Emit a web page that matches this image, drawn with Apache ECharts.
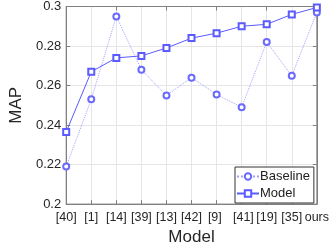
<!DOCTYPE html>
<html><head><meta charset="utf-8">
<script src="https://cdn.jsdelivr.net/npm/echarts@6/dist/echarts.min.js"></script>
<style>html,body{margin:0;padding:0;background:#fff}#c{width:332px;height:251px}</style>
</head><body><div id="c"></div>
<script>
var categories = ['[40]','[1]','[14]','[39]','[13]','[42]','[9] ',' [41]','[19]','[35]','ours'];
var baseline = [0.219,0.253,0.295,0.268,0.255,0.264,0.2555,0.249,0.282,0.265,0.297];
var model = [0.2365,0.267,0.274,0.275,0.279,0.284,0.2865,0.290,0.291,0.296,0.2995];
var yTicks = [0.2,0.22,0.24,0.26,0.28,0.3];

var font = 'Liberation Sans, Arial, Helvetica, sans-serif';
var axisGray = '#808080';
var chart = echarts.init(document.getElementById('c'), null, {renderer:'canvas'});
chart.setOption({
  animation:false,
  grid:{left:48,right:12,top:5,bottom:40,show:true,borderColor:axisGray,borderWidth:1,containLabel:false},
  legend:{
    left:235, top:167, orient:'vertical', itemGap:4, itemWidth:22, itemHeight:8,
    padding:[3,4,3,1], borderColor:'#333', borderWidth:1, backgroundColor:'#fff', borderRadius:0,
    textStyle:{fontFamily:font,fontSize:13,color:'#222',padding:[0,0,0,-4]},
    itemStyle:{borderWidth:1},
    data:['Baseline','Model']
  },
  xAxis:[{
    type:'category', data:categories, boundaryGap:false,
    name:'Model', nameLocation:'middle', nameGap:24,
    nameTextStyle:{fontFamily:font,fontSize:17,color:'#262626'},
    axisLine:{lineStyle:{color:axisGray}},
    axisTick:{inside:true,length:4,lineStyle:{color:axisGray},alignWithLabel:true},
    axisLabel:{fontFamily:font,fontSize:12.5,color:'#262626',margin:7,interval:0},
    splitLine:{show:true,lineStyle:{color:'#e6e6e6'}}
  },{
    type:'category', data:categories, boundaryGap:false, position:'top',
    axisLine:{lineStyle:{color:axisGray}},
    axisTick:{inside:true,length:4,lineStyle:{color:axisGray}},
    axisLabel:{show:false}, splitLine:{show:false}
  }],
  yAxis:[{
    type:'value', min:0.2, max:0.3, interval:0.02,
    name:'MAP', nameLocation:'middle', nameGap:30,
    nameTextStyle:{fontFamily:font,fontSize:17,color:'#262626'},
    axisLine:{show:true,lineStyle:{color:axisGray}},
    axisTick:{show:true,inside:true,length:4,lineStyle:{color:axisGray}},
    axisLabel:{fontFamily:font,fontSize:13,color:'#262626',margin:5,
      formatter:function(v){var t=yTicks.find(function(x){return Math.abs(x-v)<1e-9});return t===undefined?'':String(t);}},
    splitLine:{show:true,lineStyle:{color:'#e6e6e6'}}
  },{
    type:'value', min:0.2, max:0.3, interval:0.02, position:'right',
    axisLine:{show:true,lineStyle:{color:axisGray}},
    axisTick:{show:true,inside:true,length:4,lineStyle:{color:axisGray}},
    axisLabel:{show:false}, splitLine:{show:false}
  }],
  series:[{
    name:'Baseline', type:'line', data:baseline, xAxisIndex:0, yAxisIndex:0,
    symbol:'emptyCircle', symbolSize:6,
    lineStyle:{color:'#a0a0ff',width:1,type:'dotted'},
    itemStyle:{color:'#6a6aff',borderColor:'#6a6aff',borderWidth:1},
    z:3
  },{
    name:'Model', type:'line', data:model, xAxisIndex:0, yAxisIndex:0,
    symbol:'emptyRect', symbolSize:6,
    lineStyle:{color:'#5a5aff',width:1,type:'solid'},
    itemStyle:{color:'#5a5aff',borderColor:'#5a5aff',borderWidth:1},
    z:4
  }]
});
</script></body></html>
